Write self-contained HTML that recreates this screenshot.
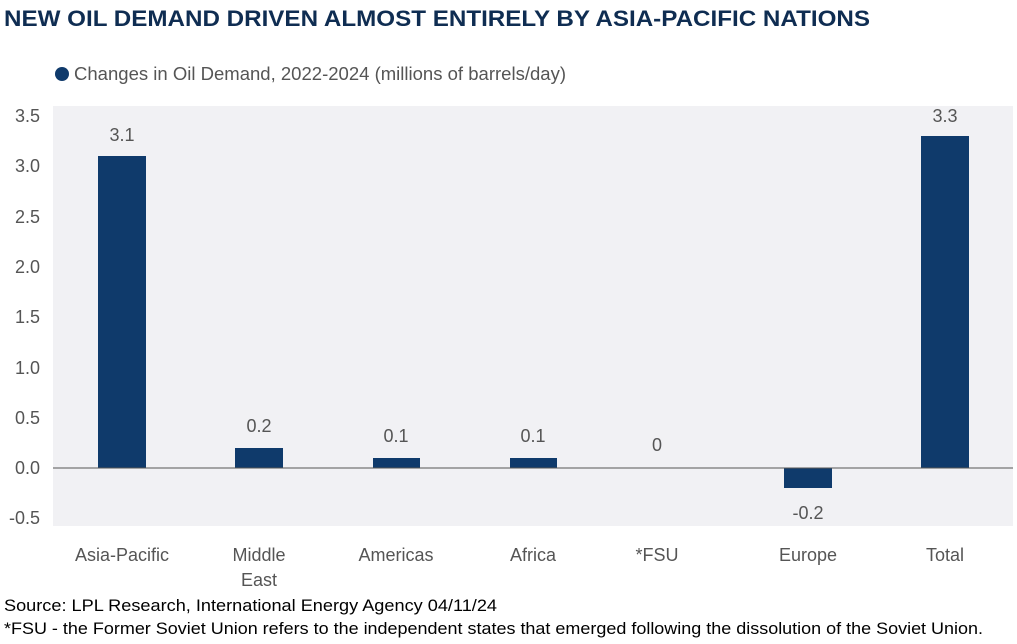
<!DOCTYPE html>
<html><head><meta charset="utf-8"><style>
body{margin:0;background:#fff;width:1017px;height:644px;overflow:hidden;font-family:"Liberation Sans",sans-serif;}
</style></head><body>
<svg width="1017" height="644" xmlns="http://www.w3.org/2000/svg" style="position:absolute;left:0;top:0">
<text x="4" y="26" font-size="22" font-weight="bold" fill="#0f2d52" font-family="Liberation Sans" textLength="866" lengthAdjust="spacingAndGlyphs">NEW OIL DEMAND DRIVEN ALMOST ENTIRELY BY ASIA-PACIFIC NATIONS</text>
<circle cx="62" cy="74" r="7" fill="#0f3a6b"/>
<text x="74" y="80" font-size="18" fill="#555" font-family="Liberation Sans" textLength="492" lengthAdjust="spacingAndGlyphs">Changes in Oil Demand, 2022-2024 (millions of barrels/day)</text>
<rect x="53" y="106" width="960" height="420" fill="#f1f1f4"/>
<g font-size="18" fill="#555" text-anchor="end" font-family="Liberation Sans">
<text x="40" y="122">3.5</text><text x="40" y="172">3.0</text><text x="40" y="223">2.5</text><text x="40" y="273">2.0</text><text x="40" y="323">1.5</text><text x="40" y="374">1.0</text><text x="40" y="424">0.5</text><text x="40" y="474">0.0</text><text x="40" y="524">-0.5</text>
</g>
<g fill="#0f3a6b">
<rect x="98" y="156" width="48" height="312"/>
<rect x="235" y="448" width="48" height="20"/>
<rect x="373" y="458" width="47" height="10"/>
<rect x="510" y="458" width="47" height="10"/>
<rect x="784" y="468" width="48" height="20"/>
<rect x="921" y="136" width="48" height="332"/>
</g>
<line x1="53" y1="468" x2="1013" y2="468" stroke="#555" stroke-width="1"/>
<g font-size="18" fill="#555" text-anchor="middle" font-family="Liberation Sans">
<text x="122" y="141">3.1</text><text x="259" y="432">0.2</text><text x="396" y="442">0.1</text><text x="533" y="442">0.1</text><text x="657" y="451">0</text><text x="808" y="519">-0.2</text><text x="945" y="122">3.3</text>
<text x="122" y="561">Asia-Pacific</text><text x="259" y="561">Middle</text><text x="259" y="586">East</text><text x="396" y="561">Americas</text><text x="533" y="561">Africa</text><text x="657" y="561">*FSU</text><text x="808" y="561">Europe</text><text x="945" y="561">Total</text>
</g>
<text x="4" y="611" font-size="17" fill="#000" font-family="Liberation Sans" textLength="493" lengthAdjust="spacingAndGlyphs">Source: LPL Research, International Energy Agency 04/11/24</text>
<text x="4" y="634" font-size="17" fill="#000" font-family="Liberation Sans" textLength="979" lengthAdjust="spacingAndGlyphs">*FSU - the Former Soviet Union refers to the independent states that emerged following the dissolution of the Soviet Union.</text>
</svg>
</body></html>
